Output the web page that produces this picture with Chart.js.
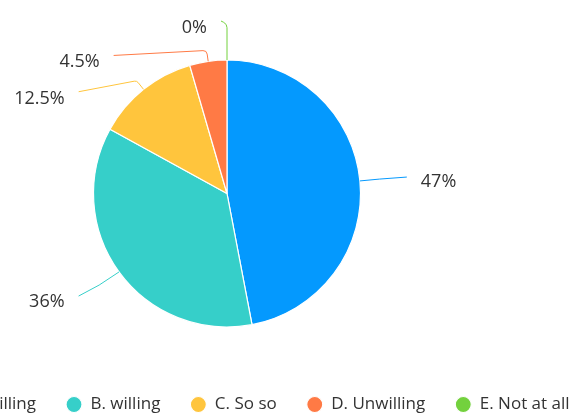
<!DOCTYPE html>
<html><head><meta charset="utf-8">
<script src="https://cdn.jsdelivr.net/npm/chart.js@4/dist/chart.umd.min.js"></script>
<style>
html,body{margin:0;padding:0;background:#fff;overflow:hidden;width:573px;height:418px;}
#wrap{position:absolute;left:-229px;top:0;width:900px;height:423px;}
</style></head><body>
<div id="wrap"><canvas id="c" width="900" height="423"></canvas></div>
<script>
const categories = ['A. Strongly willing', 'B. willing', 'C. So so', 'D. Unwilling', 'E. Not at all'];
const values = [47, 36, 12.5, 4.5, 0];
const colors = ['#0499FE', '#36CFC9', '#FFC53D', '#FF7A45', '#73D13D'];

const labelLayout = [
  {side: 1, len1: 20, len2: 27, dy: -2, ty: 3.8, r: 6},
  {side: -1, len1: 24, len2: 21, dy: 10, ty: 4.1, smooth: true},
  {side: -1, len1: 11, len2: 58, dy: 11, ty: 6, r: 4},
  {side: -1, len1: 11, len2: 93, dy: 5, ty: 5, r: 4},
  {side: -1, len1: 36, len2: 6, dy: -3, ty: 5.5, r: 6}
];

const leaderLabels = {
  id: 'leaderLabels',
  afterDatasetsDraw(chart) {
    const ctx = chart.ctx;
    const meta = chart.getDatasetMeta(0);
    ctx.save();
    meta.data.forEach((arc, i) => {
      const p = arc.getProps(['x', 'y', 'startAngle', 'endAngle', 'outerRadius'], true);
      const mid = (p.startAngle + p.endAngle) / 2;
      const dx = Math.cos(mid), dy = Math.sin(mid);
      const L = labelLayout[i];
      const p0 = {x: p.x + p.outerRadius * dx, y: p.y + p.outerRadius * dy};
      const k = {x: p0.x + L.len1 * dx, y: p0.y + L.len1 * dy};
      const e = {x: k.x + L.side * L.len2, y: k.y + L.dy};
      ctx.beginPath();
      ctx.moveTo(p0.x, p0.y);
      if (L.smooth) {
        ctx.quadraticCurveTo(k.x, k.y, e.x, e.y);
      } else {
        ctx.arcTo(k.x, k.y, e.x, e.y, L.r);
        ctx.lineTo(e.x, e.y);
      }
      ctx.strokeStyle = colors[i];
      ctx.lineWidth = 1;
      ctx.stroke();
      ctx.font = '18px "Open Sans"';
      ctx.fillStyle = '#333';
      ctx.textBaseline = 'alphabetic';
      ctx.textAlign = L.side > 0 ? 'left' : 'right';
      ctx.fillText(values[i] + '%', e.x + L.side * 14, e.y + L.ty + 6.43);
    });
    ctx.restore();
  }
};

Chart.defaults.font.family = '"Open Sans"';
new Chart(document.getElementById('c'), {
  type: 'pie',
  data: {
    labels: categories,
    datasets: [{
      data: values,
      backgroundColor: colors,
      borderColor: '#ffffff',
      borderWidth: 1.2,
      radius: 133.5
    }]
  },
  options: {
    responsive: false,
    animation: false,
    events: [],
    layout: {padding: {top: 21}},
    plugins: {
      tooltip: {enabled: false},
      title: {
        display: true,
        text: ' ',
        position: 'left',
        fullSize: true,
        font: {size: 10, lineHeight: 1},
        padding: {top: 1, bottom: 1}
      },
      legend: {
        position: 'bottom',
        fullSize: true,
        labels: {
          usePointStyle: true,
          pointStyle: 'circle',
          pointStyleWidth: 16,
          boxHeight: 11.32,
          padding: 30,
          color: '#333',
          font: {size: 17, family: '"Open Sans"'}
        }
      }
    }
  },
  plugins: [leaderLabels]
});
</script>
</body></html>
